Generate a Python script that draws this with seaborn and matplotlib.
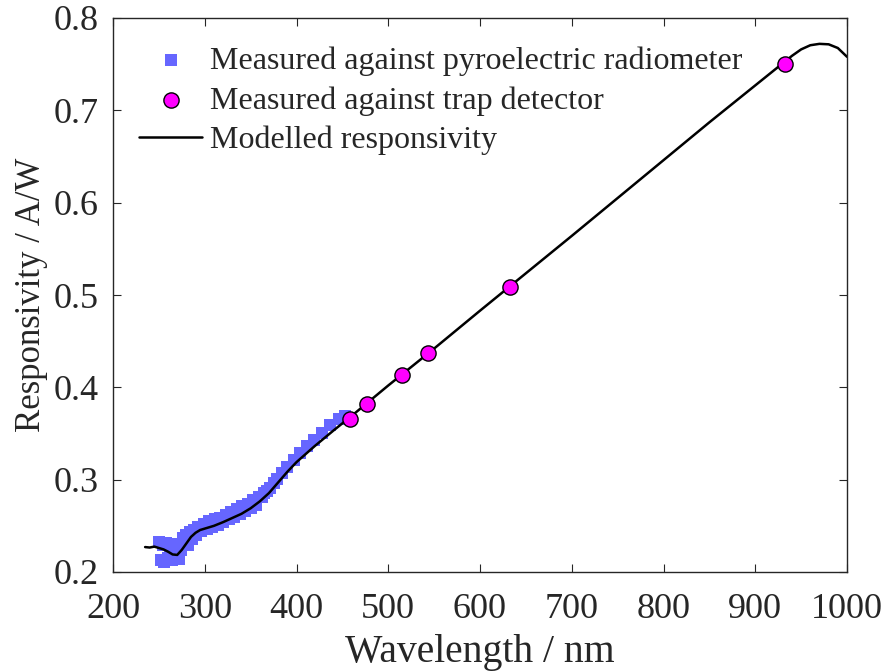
import matplotlib
matplotlib.use("Agg")
import matplotlib.pyplot as plt
import pandas as pd
import seaborn as sns

# measured against pyroelectric radiometer
pyro_wl = [250, 252, 254, 256, 258, 260, 262, 264, 266, 268, 270, 272, 274, 276,
           278, 280, 282, 284, 286, 288, 290, 293, 296, 299, 302, 305, 308, 311,
           314, 317, 320, 323, 326, 329, 332, 335, 338, 341, 344, 347, 350, 353,
           356, 359, 362, 365, 368, 371, 375, 379, 384, 390, 397, 404, 411, 419,
           428, 437, 446, 453]
pyro_resp = [0.233, 0.213, 0.229, 0.211, 0.231, 0.215, 0.227, 0.213, 0.230, 0.215,
             0.222, 0.214, 0.224, 0.237, 0.232, 0.240, 0.229, 0.243, 0.236, 0.246,
             0.240, 0.249, 0.244, 0.252, 0.247, 0.255, 0.249, 0.257, 0.251, 0.259,
             0.254, 0.262, 0.257, 0.265, 0.260, 0.268, 0.263, 0.271, 0.266, 0.274,
             0.269, 0.278, 0.273, 0.281, 0.281, 0.286, 0.288, 0.291, 0.296, 0.301,
             0.307, 0.314, 0.321, 0.329, 0.336, 0.343, 0.351, 0.359, 0.366, 0.369]

# measured against trap detector
trap_wl = [457.9, 476.5, 514.5, 543.5, 632.8, 932]
trap_resp = [0.366, 0.382, 0.413, 0.437, 0.509, 0.750]

# modelled responsivity
model_wl = [235, 240, 245, 250, 255, 260, 265, 270, 275, 280, 285, 290, 295, 300,
            310, 320, 330, 340, 350, 360, 365, 370, 380, 390, 400, 420, 440, 460,
            500, 550, 600, 650, 700, 750, 800, 850, 900, 930, 940, 950, 960, 970,
            980, 990, 1000]
model_resp = [0.227, 0.2265, 0.2275, 0.226, 0.2245, 0.222, 0.219, 0.2185, 0.224,
              0.231, 0.238, 0.2425, 0.2455, 0.247, 0.250, 0.254, 0.2585, 0.263,
              0.269, 0.2765, 0.281, 0.2855, 0.297, 0.3085, 0.319, 0.3365, 0.353,
              0.369, 0.402, 0.442, 0.483, 0.5235, 0.564, 0.605, 0.646, 0.687,
              0.727, 0.751, 0.759, 0.766, 0.7705, 0.772, 0.7715, 0.7675, 0.758]

pyro = pd.DataFrame({"wl": pyro_wl, "resp": pyro_resp})
trap = pd.DataFrame({"wl": trap_wl, "resp": trap_resp})
model = pd.DataFrame({"wl": model_wl, "resp": model_resp})

sns.set_style("ticks")
plt.rcParams["font.family"] = ["Liberation Serif", "DejaVu Serif"]

fig = plt.figure(figsize=(8.85, 6.71), dpi=100)
ax = fig.add_axes([113 / 885, 99 / 671, 734 / 885, 554 / 671])

sns.scatterplot(data=pyro, x="wl", y="resp", ax=ax, marker="s", s=64,
                color="#6666ff", linewidth=0, zorder=2,
                label="Measured against pyroelectric radiometer")
sns.scatterplot(data=trap, x="wl", y="resp", ax=ax, marker="o", s=120,
                color="#ff00ff", edgecolor="black", linewidth=1.0, zorder=4,
                label="Measured against trap detector")
sns.lineplot(data=model, x="wl", y="resp", ax=ax, color="black", lw=1.8,
             zorder=3, label="Modelled responsivity", sort=False)

ax.set_xlim(200, 1000)
ax.set_ylim(0.2, 0.8)
ax.set_xticks(range(200, 1001, 100))
ax.set_yticks([0.2, 0.3, 0.4, 0.5, 0.6, 0.7, 0.8])
ax.set_yticklabels(["0.2", "0.3", "0.4", "0.5", "0.6", "0.7", "0.8"])

for s in ax.spines.values():
    s.set_visible(True)
    s.set_color("#262626")
    s.set_linewidth(1.0)
ax.tick_params(direction="in", length=6, width=0.8, color="#262626",
               top=True, right=True, labelsize=26)
ax.tick_params(axis="x", pad=15)
ax.tick_params(axis="y", pad=10)

ax.set_xlabel("Wavelength / nm", fontsize=28.5, labelpad=6)
ax.set_ylabel("Responsivity / A/W", fontsize=25, labelpad=4)

ax.legend(loc="upper left", bbox_to_anchor=(0.0, 0.995), frameon=False,
          fontsize=23, handlelength=2.0, handletextpad=0.25,
          labelspacing=0.32, borderpad=0.3, borderaxespad=0.5)

fig.savefig("out.png", dpi=100)
